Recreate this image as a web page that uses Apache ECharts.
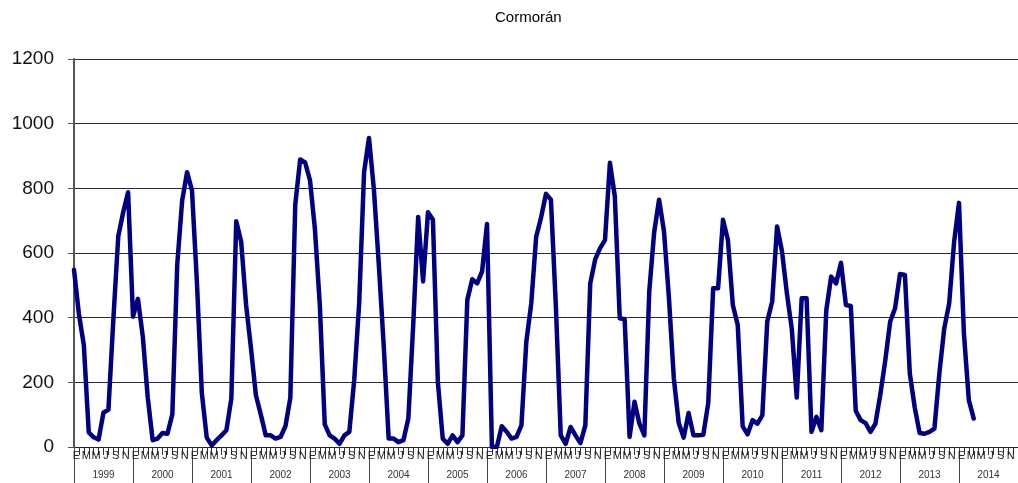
<!DOCTYPE html>
<html><head><meta charset="utf-8">
<script src="https://cdn.jsdelivr.net/npm/echarts@6/dist/echarts.min.js"></script>
<style>html,body{margin:0;padding:0;background:#fff}#c{width:1018px;height:483px}</style>
</head><body><div id="c"></div>
<script>
const titleText = 'Cormorán';
const years = ['1999','2000','2001','2002','2003','2004','2005','2006','2007','2008','2009','2010','2011','2012','2013','2014'];
const monthLetters = ['E','F','M','A','M','J','J','A','S','O','N','D'];
const v1999 = [548, 411, 315, 45, 30, 23, 107, 115, 394, 651, 726, 788];
const v2000 = [403, 458, 341, 153, 21, 26, 43, 41, 101, 565, 762, 850];
const v2001 = [793, 510, 167, 29, 5, 21, 36, 52, 150, 698, 635, 440];
const v2002 = [305, 160, 100, 36, 36, 26, 31, 64, 152, 749, 889, 880];
const v2003 = [825, 674, 439, 70, 36, 26, 10, 36, 47, 209, 444, 850];
const v2004 = [956, 796, 563, 312, 26, 26, 15, 21, 88, 380, 711, 512];
const v2005 = [726, 703, 202, 26, 10, 36, 15, 36, 455, 519, 506, 543];
const v2006 = [690, 0, 0, 64, 47, 26, 31, 67, 326, 444, 650, 710];
const v2007 = [783, 765, 439, 36, 10, 62, 36, 12, 67, 506, 580, 615];
const v2008 = [640, 879, 775, 398, 395, 31, 140, 72, 36, 481, 664, 765];
const v2009 = [667, 462, 212, 74, 29, 105, 36, 36, 38, 136, 491, 491];
const v2010 = [703, 640, 439, 377, 64, 39, 83, 72, 98, 388, 450, 682];
const v2011 = [605, 475, 364, 153, 460, 460, 47, 93, 52, 422, 527, 506];
const v2012 = [570, 439, 436, 112, 83, 74, 47, 72, 163, 267, 388, 429];
const v2013 = [535, 532, 227, 122, 43, 41, 47, 57, 227, 367, 444, 633];
const v2014 = [755, 351, 145, 88];

const values = [].concat(v1999, v2000, v2001, v2002, v2003, v2004, v2005, v2006,
  v2007, v2008, v2009, v2010, v2011, v2012, v2013, v2014);

// month categories (points sit on tick marks), plus closing tick
const pointCats = [];
years.forEach(y => monthLetters.forEach((m, k) => pointCats.push(y + '-' + (k + 1))));
pointCats.push('2015-1');
// month label categories (labels between tick marks)
const labelCats = [];
years.forEach(y => monthLetters.forEach(m => labelCats.push(m)));

const font = "'Liberation Sans', Arial, sans-serif";
const chart = echarts.init(document.getElementById('c'), null, {renderer: 'canvas'});
chart.setOption({
  animation: false,
  backgroundColor: '#fff',
  title: {
    text: titleText, left: 490, top: 5,
    textStyle: {fontSize: 15, fontWeight: 'normal', color: '#000', fontFamily: font}
  },
  grid: {left: 74, top: 59, width: 946, height: 388, containLabel: false},
  xAxis: [
    {
      type: 'category', data: pointCats, boundaryGap: false, position: 'bottom',
      axisLine: {show: true, lineStyle: {color: '#222', width: 1}},
      axisTick: {show: false}, axisLabel: {show: false}, splitLine: {show: false}
    },
    {
      type: 'category', data: labelCats, boundaryGap: true, position: 'bottom',
      axisLine: {show: false},
      axisTick: {show: true, interval: 0, length: 8, lineStyle: {color: '#333', width: 1}},
      axisLabel: {show: true, interval: 1, hideOverlap: false, margin: 3, fontSize: 11, color: '#222', fontFamily: font},
      splitLine: {show: false}
    },
    {
      type: 'category', data: years, boundaryGap: true, position: 'bottom',
      axisLine: {show: false},
      axisTick: {show: true, interval: 0, length: 36, lineStyle: {color: '#444', width: 1}},
      axisLabel: {show: true, interval: 0, margin: 23, fontSize: 10, color: '#333', fontFamily: font},
      splitLine: {show: false}
    }
  ],
  yAxis: {
    type: 'value', min: 0, max: 1200, interval: 200,
    axisLine: {show: true, lineStyle: {color: '#555', width: 2}},
    axisTick: {show: true, length: 6, lineStyle: {color: '#555', width: 1}},
    axisLabel: {fontSize: 19, color: '#111', margin: 20, fontFamily: font, formatter: v => String(v)},
    splitLine: {show: true, lineStyle: {color: '#2a2a2a', width: 1}}
  },
  series: [{
    type: 'line', xAxisIndex: 0, data: values,
    lineStyle: {color: '#000080', width: 4.5, cap: 'round', join: 'round'},
    itemStyle: {color: '#000080'},
    symbol: 'circle', symbolSize: 4, showSymbol: true,
    smooth: false
  }]
});
</script>
</body></html>
